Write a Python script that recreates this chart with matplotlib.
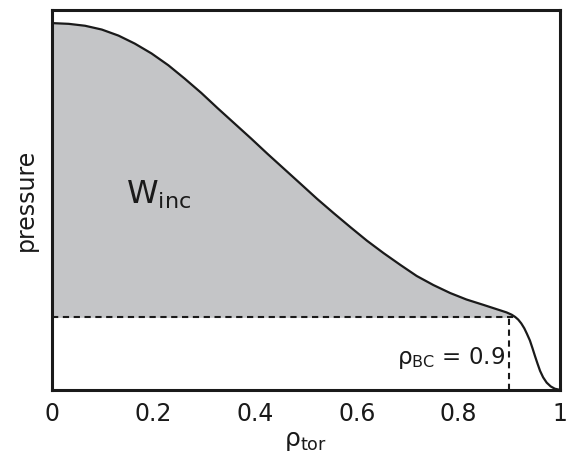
import matplotlib
matplotlib.use("Agg")
import matplotlib.pyplot as plt
import numpy as np

plt.rcParams["font.family"] = ["DejaVu Sans"]
plt.rcParams["mathtext.fontset"] = "dejavusans"
plt.rcParams["mathtext.default"] = "regular"

# Pressure profile vs normalised toroidal flux radius
rho = [0.0, 0.033, 0.065, 0.098, 0.131, 0.163, 0.196, 0.229, 0.261, 0.294,
       0.326, 0.359, 0.392, 0.424, 0.457, 0.490, 0.522, 0.555, 0.588, 0.620,
       0.653, 0.686, 0.718, 0.751, 0.784, 0.816, 0.849, 0.872, 0.895, 0.905,
       0.912, 0.918, 0.924, 0.930, 0.935, 0.941, 0.946, 0.951, 0.956, 0.961,
       0.967, 0.974, 0.982, 0.990, 1.0]
pressure = [0.966, 0.964, 0.959, 0.949, 0.933, 0.912, 0.886, 0.855, 0.820, 0.782,
            0.742, 0.702, 0.662, 0.622, 0.582, 0.542, 0.503, 0.465, 0.428, 0.393,
            0.360, 0.329, 0.300, 0.276, 0.255, 0.238, 0.224, 0.214, 0.204, 0.198,
            0.192, 0.185, 0.175, 0.162, 0.148, 0.130, 0.110, 0.089, 0.069, 0.050,
            0.033, 0.019, 0.009, 0.003, 0.0]

rho_bc = 0.9
p_bc = 0.191

xticks = [0, 0.2, 0.4, 0.6, 0.8, 1]
xticklabels = ["0", "0.2", "0.4", "0.6", "0.8", "1"]

fig = plt.figure(figsize=(5.76, 4.63), dpi=100)
ax = fig.add_axes([0.0903, 0.158, 0.8817, 0.820])

# shaded stored energy above the pedestal level
r_arr = np.array(rho)
p_arr = np.array(pressure)
mask = r_arr <= 0.935
ax.fill_between(r_arr[mask], p_arr[mask], p_bc, where=p_arr[mask] >= p_bc,
                interpolate=True, color="#c4c5c7", linewidth=0, zorder=1)

ax.plot(rho, pressure, color="#1a1a1a", linewidth=1.6, zorder=3,
        solid_joinstyle="round")
ax.plot([0, rho_bc + 0.008], [p_bc, p_bc], color="#1a1a1a",
        linestyle=(0, (3, 2.2)), linewidth=1.5, zorder=2)
ax.plot([rho_bc, rho_bc], [0, p_bc], color="#1a1a1a", linestyle=(0, (3, 2.2)),
        linewidth=1.5, zorder=2)

ax.text(0.146, 0.513, r"$W_{inc}$", fontsize=23, va="center", ha="left",
        color="#1a1a1a")
ax.text(0.892, 0.084, r"$ρ_{BC}$ = 0.9", fontsize=16.5, va="center",
        ha="right", color="#1a1a1a")

ax.set_xlim(0, 1)
ax.set_ylim(0, 1)
ax.set_xticks(xticks)
ax.set_xticklabels(xticklabels, fontsize=17, color="#1a1a1a")
ax.set_yticks([])
ax.tick_params(axis="x", length=0, pad=9)
ax.set_xlabel(r"$ρ_{tor}$", fontsize=18, color="#1a1a1a", labelpad=2)
ax.set_ylabel("pressure", fontsize=17, color="#1a1a1a", labelpad=10)
for s in ax.spines.values():
    s.set_linewidth(2.2)
    s.set_color("#1a1a1a")

fig.savefig("out.png", dpi=100)
